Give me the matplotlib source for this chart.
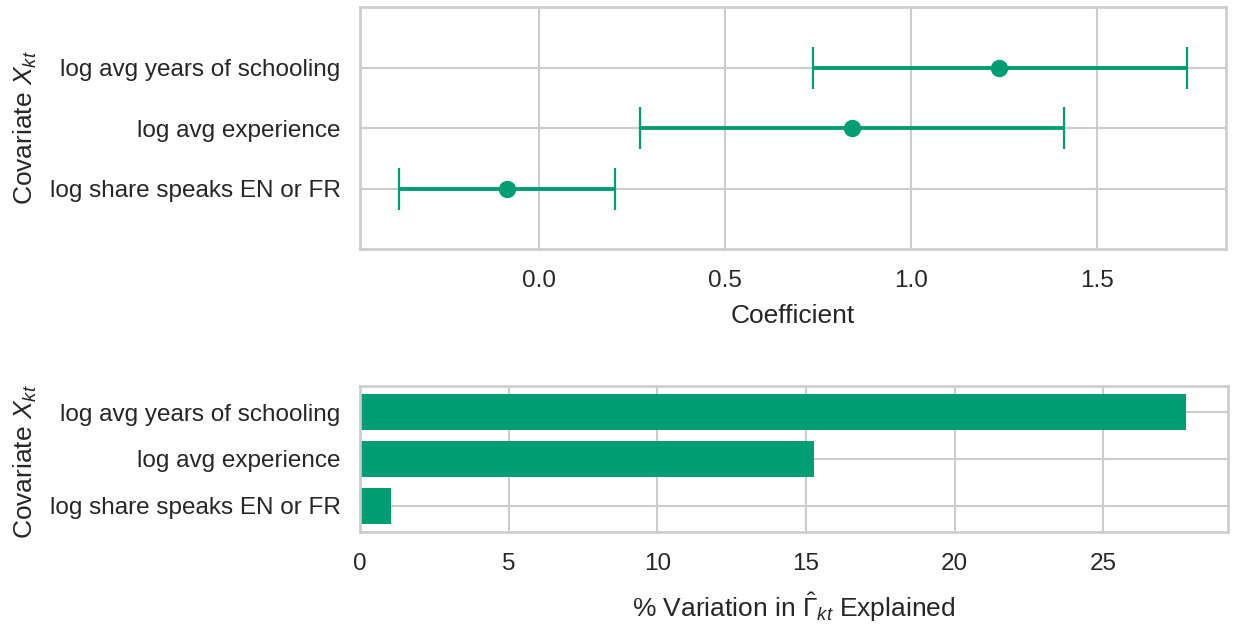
import matplotlib
matplotlib.use("Agg")
import matplotlib.pyplot as plt
import numpy as np

# Data
covariates = ["log avg years of schooling", "log avg experience", "log share speaks EN or FR"]
coef = [1.236, 0.842, -0.086]
ci_low = [0.735, 0.271, -0.375]
ci_high = [1.740, 1.410, 0.204]
pct_explained = [27.8, 15.27, 1.04]

GREEN = "#029E73"
GRID = "#cccccc"
TEXT = "#262626"

plt.rcParams["font.family"] = ["Liberation Sans", "DejaVu Sans"]
plt.rcParams["mathtext.fontset"] = "custom"
plt.rcParams["mathtext.rm"] = "Liberation Sans"
plt.rcParams["mathtext.it"] = "Liberation Sans:italic"
plt.rcParams["text.color"] = TEXT
plt.rcParams["axes.labelcolor"] = TEXT
plt.rcParams["xtick.color"] = TEXT
plt.rcParams["ytick.color"] = TEXT

fig = plt.figure(figsize=(12.33, 6.27), dpi=100)
W, H = 1233, 627
ax1 = fig.add_axes([360 / W, 1 - 249 / H, 866 / W, 242 / H])
ax2 = fig.add_axes([360 / W, 1 - 532 / H, 868 / W, 146 / H])

TICK_FS = 17.5
LABEL_FS = 19

ypos = np.arange(len(covariates))
coef_a = np.array(coef)
err = np.vstack([coef_a - np.array(ci_low), np.array(ci_high) - coef_a])

for ax in (ax1, ax2):
    ax.set_facecolor("white")
    ax.set_axisbelow(True)
    ax.grid(True, color=GRID, linewidth=1.5)
    for sp in ax.spines.values():
        sp.set_color(GRID)
        sp.set_linewidth(1.9)
    ax.tick_params(axis="both", length=0, labelsize=TICK_FS)
    ax.tick_params(axis="x", pad=15)
    ax.tick_params(axis="y", pad=14)

# Top: coefficient plot
ax1.errorbar(coef_a, ypos, xerr=err, fmt="o", color=GREEN, ecolor=GREEN,
             markersize=11.5, elinewidth=2.8, capsize=15, capthick=1.6)
ax1.set_yticks(ypos)
ax1.set_yticklabels(covariates)
ax1.set_ylim(3, -1)
ax1.set_xticks([0.0, 0.5, 1.0, 1.5])
ax1.set_xticklabels(["0.0", "0.5", "1.0", "1.5"])
ax1.set_xlim(-0.481, 1.846)
ax1.set_xlabel("Coefficient", fontsize=LABEL_FS, labelpad=9)

# Bottom: % explained
ax2.barh(ypos, pct_explained, height=0.78, color=GREEN)
ax2.set_yticks(ypos)
ax2.set_yticklabels(covariates)
ax2.set_ylim(2.56, -0.56)
ax2.set_xlim(0, 29.2)
ax2.set_xticks([0, 5, 10, 15, 20, 25])
ax2.set_xlabel(r"% Variation in $\hat{\Gamma}_{kt}$ Explained", fontsize=LABEL_FS, labelpad=11)

fig.text(25 / W, 1 - 128 / H, r"Covariate $X_{kt}$", rotation=90, fontsize=LABEL_FS,
         ha="center", va="center")
fig.text(25 / W, 1 - 462 / H, r"Covariate $X_{kt}$", rotation=90, fontsize=LABEL_FS,
         ha="center", va="center")

fig.savefig("out.png", dpi=100, facecolor="white")
